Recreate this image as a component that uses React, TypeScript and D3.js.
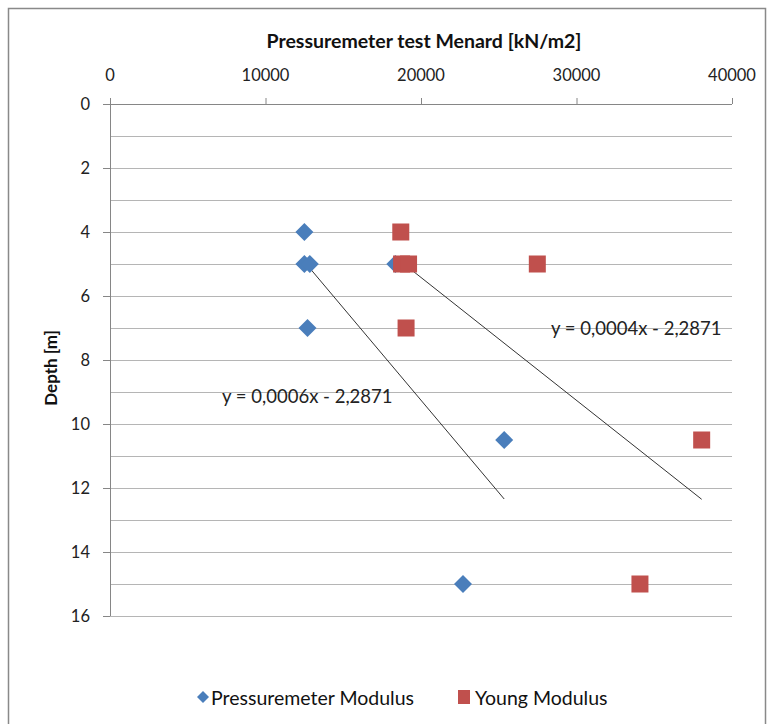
import * as d3 from "d3";

// depth [m] of each test
const depths = [4, 5, 5, 5, 7, 10.5, 15];
// Pressuremeter modulus [kN/m2]
const pressuremeterModulus = [12500, 12500, 12850, 18350, 12700, 25350, 22700];
// Young modulus [kN/m2]
const youngModulus = [18700, 18750, 19200, 27480, 19040, 38050, 34080];

const xTicks = [0, 10000, 20000, 30000, 40000];
const yTicks = [0, 2, 4, 6, 8, 10, 12, 14, 16];
const yGrid = d3.range(1, 17);

const trendLabels = ["y = 0,0006x - 2,2871", "y = 0,0004x - 2,2871"];

const W = 769;
const H = 724;
const FONT = "Lato, 'Open Sans', sans-serif";
const BLUE = "#4a7ebb";
const RED = "#c0504d";

// least squares fit depth = a*x + b
function fit(xs: number[], ys: number[]) {
  const mx = d3.mean(xs)!;
  const my = d3.mean(ys)!;
  let sxy = 0;
  let sxx = 0;
  xs.forEach((x, i) => {
    sxy += (x - mx) * (ys[i] - my);
    sxx += (x - mx) * (x - mx);
  });
  const a = sxy / sxx;
  const b = my - a * mx;
  const [x0, x1] = d3.extent(xs) as [number, number];
  return [
    { x: x0, y: a * x0 + b },
    { x: x1, y: a * x1 + b },
  ];
}

export default function App() {
  const x = d3.scaleLinear().domain([0, 40000]).range([110, 732]);
  const y = d3.scaleLinear().domain([0, 16]).range([104, 616]);

  const line = d3
    .line<{ x: number; y: number }>()
    .x((d) => x(d.x))
    .y((d) => y(d.y));

  const trendBlue = fit(pressuremeterModulus, depths);
  const trendRed = fit(youngModulus, depths);

  const diamond = (cx: number, cy: number, r: number) =>
    `M${cx},${cy - r}L${cx + r},${cy}L${cx},${cy + r}L${cx - r},${cy}Z`;

  return (
    <svg
      width={W}
      height={H}
      style={{ position: "absolute", left: 0, top: 0, background: "#fff" }}
      fontFamily={FONT}
    >
      <rect x={8.5} y={8.5} width={757} height={740} fill="#fff" stroke="#898989" strokeWidth={1.5} />

      {/* grid */}
      {yGrid.map((d) => (
        <line key={d} x1={x(0)} x2={x(40000)} y1={y(d) + 0.5} y2={y(d) + 0.5} stroke="#b5b5b5" />
      ))}

      {/* axes */}
      <line x1={x(0)} x2={x(40000)} y1={y(0) + 0.5} y2={y(0) + 0.5} stroke="#868686" />
      <line x1={x(0) + 0.5} x2={x(0) + 0.5} y1={y(0)} y2={y(16)} stroke="#868686" />
      {xTicks.map((t) => (
        <g key={t}>
          <line x1={x(t) + 0.5} x2={x(t) + 0.5} y1={y(0) - 6} y2={y(0)} stroke="#868686" />
          <text x={x(t)} y={y(0) - 29} textAnchor="middle" dominantBaseline="central" fontSize={16.5} fill="#222">
            {t}
          </text>
        </g>
      ))}
      {yTicks.map((t) => (
        <g key={t}>
          <line x1={x(0) - 7} x2={x(0)} y1={y(t) + 0.5} y2={y(t) + 0.5} stroke="#868686" />
          <text x={90} y={y(t)} textAnchor="end" dominantBaseline="central" fontSize={16.5} fill="#222">
            {t}
          </text>
        </g>
      ))}

      {/* titles */}
      <text x={424} y={40} textAnchor="middle" dominantBaseline="central" fontSize={19.5} fontWeight="bold" fill="#111">
        Pressuremeter test Menard [kN/m2]
      </text>
      <text
        transform={`translate(50,${(y(0) + y(16)) / 2 + 8}) rotate(-90)`}
        textAnchor="middle"
        dominantBaseline="central"
        fontSize={17}
        fontWeight="bold"
        fill="#111"
      >
        Depth [m]
      </text>

      {/* trendlines */}
      <path d={line(trendBlue)!} fill="none" stroke="#333" strokeWidth={1} />
      <path d={line(trendRed)!} fill="none" stroke="#333" strokeWidth={1} />
      <text x={222} y={396} dominantBaseline="central" fontSize={18.5} fill="#222">
        {trendLabels[0]}
      </text>
      <text x={551} y={328} dominantBaseline="central" fontSize={18.5} fill="#222">
        {trendLabels[1]}
      </text>

      {/* points */}
      {pressuremeterModulus.map((v, i) => (
        <path key={"b" + i} d={diamond(x(v), y(depths[i]), 9)} fill={BLUE} />
      ))}
      {youngModulus.map((v, i) => (
        <rect key={"r" + i} x={x(v) - 8.5} y={y(depths[i]) - 8.5} width={17} height={17} fill={RED} />
      ))}

      {/* legend */}
      <path d={diamond(203, 697, 6)} fill={BLUE} />
      <text x={211} y={697} dominantBaseline="central" fontSize={19.5} fill="#111">
        Pressuremeter Modulus
      </text>
      <rect x={458} y={690} width={12} height={14} fill={RED} />
      <text x={475} y={697} dominantBaseline="central" fontSize={19.5} fill="#111">
        Young Modulus
      </text>
    </svg>
  );
}
